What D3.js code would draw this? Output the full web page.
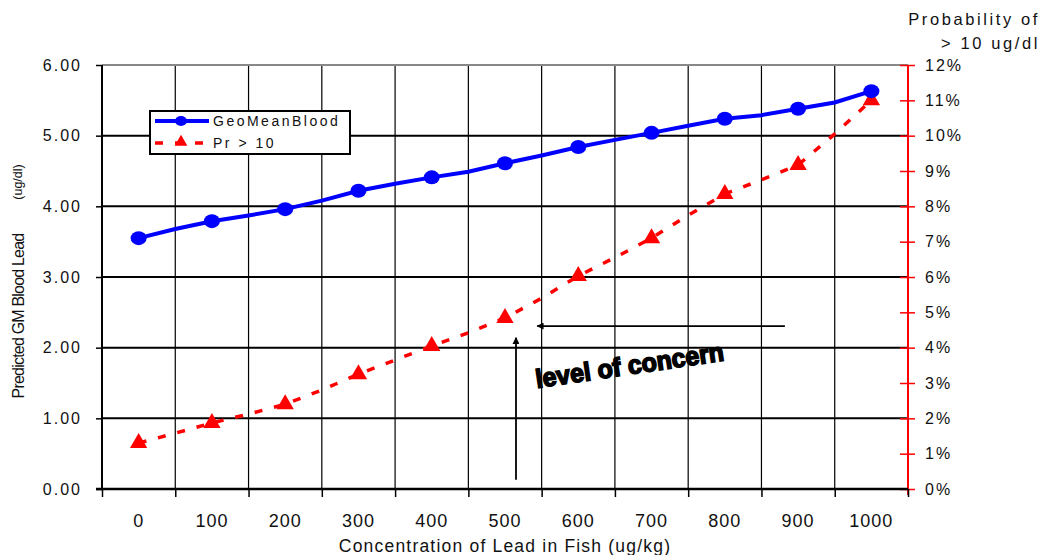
<!DOCTYPE html>
<html>
<head>
<meta charset="utf-8">
<script src="https://cdn.jsdelivr.net/npm/d3@7"></script>
<style>
  body { margin: 0; background: #fff; }
  svg { font-family: "Liberation Sans", Arial, sans-serif; }
</style>
</head>
<body>
<svg id="chart" width="1046" height="555"></svg>
<script>
// data
let fishConc = [0, 50, 100, 150, 200, 250, 300, 350, 400, 450, 500, 550, 600, 650, 700, 750, 800, 850, 900, 950, 1000];
let geoMeanBlood = [3.55, 3.68, 3.79, 3.87, 3.96, 4.08, 4.22, 4.32, 4.41, 4.49, 4.61, 4.72, 4.84, 4.94, 5.04, 5.14, 5.24, 5.29, 5.38, 5.47, 5.63];
let prOver10 = [1.30, 1.58, 1.87, 2.12, 2.40, 2.80, 3.25, 3.65, 4.05, 4.42, 4.84, 5.40, 6.03, 6.55, 7.10, 7.75, 8.35, 8.75, 9.17, 10.05, 11.0];
let xTickLabels = [0, 100, 200, 300, 400, 500, 600, 700, 800, 900, 1000];
let leftTicks = [0, 1, 2, 3, 4, 5, 6];
let rightTicks = [0, 1, 2, 3, 4, 5, 6, 7, 8, 9, 10, 11, 12];

const svg = d3.select("#chart");
const pLeft = 102, pRight = 908, pTop = 65, pBottom = 489;

const x = d3.scaleLinear().domain([-50, 1050]).range([pLeft, pRight]);
const yL = d3.scaleLinear().domain([0, 6]).range([pBottom, pTop]);
const yR = d3.scaleLinear().domain([0, 12]).range([pBottom, pTop]);

// grid
const grid = svg.append("g");
d3.range(50, 1000, 100).forEach(v => {
  grid.append("line")
    .attr("x1", x(v)).attr("x2", x(v))
    .attr("y1", pTop).attr("y2", pBottom)
    .attr("stroke", "#000").attr("stroke-width", 1.2);
});
leftTicks.slice(1, -1).forEach(v => {
  grid.append("line")
    .attr("x1", pLeft).attr("x2", pRight)
    .attr("y1", yL(v)).attr("y2", yL(v))
    .attr("stroke", "#000").attr("stroke-width", 2);
});
grid.append("line")
  .attr("x1", pLeft).attr("x2", pRight)
  .attr("y1", pTop).attr("y2", pTop)
  .attr("stroke", "#888").attr("stroke-width", 2);

// left axis
const axL = svg.append("g").attr("transform", `translate(${pLeft},0)`)
  .call(d3.axisLeft(yL).tickValues(leftTicks).tickFormat(d3.format(".2f")).tickSize(6).tickPadding(14));
axL.select(".domain").attr("stroke-width", 2).attr("d", `M0,${pTop}V${pBottom}`);
axL.selectAll(".tick line").attr("stroke-width", 1.5);
axL.selectAll("text").attr("font-size", 16).attr("letter-spacing", 2).attr("fill", "#111")
  .attr("font-family", "Liberation Sans, Arial, sans-serif");

// right axis
const axR = svg.append("g").attr("transform", `translate(${pRight},0)`)
  .call(d3.axisRight(yR).tickValues(rightTicks).tickFormat(d => d + "%").tickSize(7).tickPadding(10));
axR.select(".domain").attr("stroke", "#f00").attr("stroke-width", 2).attr("d", `M0,${pTop}V${pBottom + 6}`);
axR.selectAll(".tick line").attr("stroke", "#f00").attr("stroke-width", 1.5).attr("x1", -8).attr("x2", 7);
axR.selectAll("text").attr("font-size", 16).attr("letter-spacing", 2).attr("fill", "#111")
  .attr("font-family", "Liberation Sans, Arial, sans-serif");

// bottom axis
const axB = svg.append("g").attr("transform", `translate(0,${pBottom})`)
  .call(d3.axisBottom(x).tickValues(d3.range(-50, 1100, 100)).tickFormat("").tickSize(8));
axB.select(".domain").attr("stroke-width", 2.5).attr("d", `M${pLeft - 6},0H${pRight}`);
axB.selectAll(".tick line").attr("stroke-width", 1.5);
svg.append("g").selectAll("text").data(xTickLabels).join("text")
  .attr("x", d => x(d)).attr("y", 527)
  .attr("text-anchor", "middle")
  .attr("font-family", "Liberation Sans Narrow, Liberation Sans, sans-serif")
  .attr("font-size", 18).attr("letter-spacing", 1).attr("fill", "#111")
  .text(d => d);

// titles
svg.append("text")
  .attr("x", 505).attr("y", 552).attr("text-anchor", "middle")
  .attr("font-size", 17.5).attr("letter-spacing", 1.2).attr("fill", "#111")
  .text("Concentration of Lead in Fish (ug/kg)");
svg.append("text")
  .attr("transform", "translate(24,316) rotate(-90)")
  .attr("text-anchor", "middle")
  .attr("font-family", "Liberation Sans Narrow, Liberation Sans, sans-serif")
  .attr("font-size", 16).attr("letter-spacing", -0.8).attr("fill", "#111")
  .text("Predicted GM Blood Lead");
svg.append("text")
  .attr("transform", "translate(22,182) rotate(-90)")
  .attr("text-anchor", "middle")
  .attr("font-size", 12.5).attr("fill", "#111")
  .text("(ug/dl)");
svg.append("text")
  .attr("x", 1040).attr("y", 25).attr("text-anchor", "end")
  .attr("font-size", 16.5).attr("letter-spacing", 2.6).attr("fill", "#111")
  .text("Probability of");
svg.append("text")
  .attr("x", 1040).attr("y", 49).attr("text-anchor", "end")
  .attr("font-size", 16.5).attr("letter-spacing", 2.6).attr("fill", "#111")
  .text("> 10 ug/dl");

// series lines
const blueLine = d3.line().x((d, i) => x(fishConc[i])).y(d => yL(d));
const redLine = d3.line().x((d, i) => x(fishConc[i])).y(d => yR(d));

svg.append("path").datum(prOver10)
  .attr("d", redLine).attr("fill", "none")
  .attr("stroke", "#f00").attr("stroke-width", 3.5)
  .attr("stroke-dasharray", "8,12");

svg.append("path").datum(geoMeanBlood)
  .attr("d", blueLine).attr("fill", "none")
  .attr("stroke", "#00f").attr("stroke-width", 4);

const markerIdx = fishConc.map((d, i) => i).filter(i => fishConc[i] % 100 === 0);
const tri = d3.symbol().type(d3.symbolTriangle).size(130);

svg.append("g").selectAll("path").data(markerIdx).join("path")
  .attr("d", tri)
  .attr("transform", i => `translate(${x(fishConc[i])},${yR(prOver10[i])})`)
  .attr("fill", "#f00");

svg.append("g").selectAll("ellipse").data(markerIdx).join("ellipse")
  .attr("cx", i => x(fishConc[i])).attr("cy", i => yL(geoMeanBlood[i]))
  .attr("rx", 8).attr("ry", 7)
  .attr("fill", "#00f");

// legend
const lg = svg.append("g");
lg.append("rect").attr("x", 150).attr("y", 111).attr("width", 200).attr("height", 43)
  .attr("fill", "#fff").attr("stroke", "#000").attr("stroke-width", 2);
lg.append("line").attr("x1", 155).attr("x2", 209).attr("y1", 121).attr("y2", 121)
  .attr("stroke", "#00f").attr("stroke-width", 4);
lg.append("ellipse").attr("cx", 181).attr("cy", 121).attr("rx", 6).attr("ry", 5).attr("fill", "#00f");
lg.append("line").attr("x1", 155).attr("x2", 209).attr("y1", 143).attr("y2", 143)
  .attr("stroke", "#f00").attr("stroke-width", 3.5).attr("stroke-dasharray", "8,12");
lg.append("path").attr("d", d3.symbol().type(d3.symbolTriangle).size(70))
  .attr("transform", "translate(181,142)").attr("fill", "#f00");
lg.append("text").attr("x", 213).attr("y", 126)
  .attr("font-size", 14).attr("letter-spacing", 2.5).attr("fill", "#111").text("GeoMeanBlood");
lg.append("text").attr("x", 213).attr("y", 148)
  .attr("font-size", 14).attr("letter-spacing", 2.5).attr("fill", "#111").text("Pr > 10");

// annotation
const defs = svg.append("defs");
defs.append("marker").attr("id", "arrow")
  .attr("viewBox", "0 0 10 10").attr("refX", 9).attr("refY", 5)
  .attr("markerWidth", 10).attr("markerHeight", 7).attr("orient", "auto")
  .attr("markerUnits", "userSpaceOnUse")
  .append("path").attr("d", "M0,0L10,5L0,10Z").attr("fill", "#000");

svg.append("line")
  .attr("x1", x(882)).attr("x2", x(544))
  .attr("y1", yR(4.61)).attr("y2", yR(4.61))
  .attr("stroke", "#000").attr("stroke-width", 1.8)
  .attr("marker-end", "url(#arrow)");
svg.append("line")
  .attr("x1", x(515)).attr("x2", x(515))
  .attr("y1", yL(0.13)).attr("y2", yL(2.14))
  .attr("stroke", "#000").attr("stroke-width", 1.8)
  .attr("marker-end", "url(#arrow)");

svg.append("text")
  .attr("transform", "translate(537,388) rotate(-8.4)")
  .attr("font-family", "Liberation Sans Narrow, Liberation Sans, sans-serif")
  .attr("font-weight", "bold").attr("font-size", 26)
  .attr("fill", "#000").attr("stroke", "#000").attr("stroke-width", 1.6)
  .attr("textLength", 190).attr("lengthAdjust", "spacingAndGlyphs")
  .text("level of concern");
</script>
</body>
</html>
